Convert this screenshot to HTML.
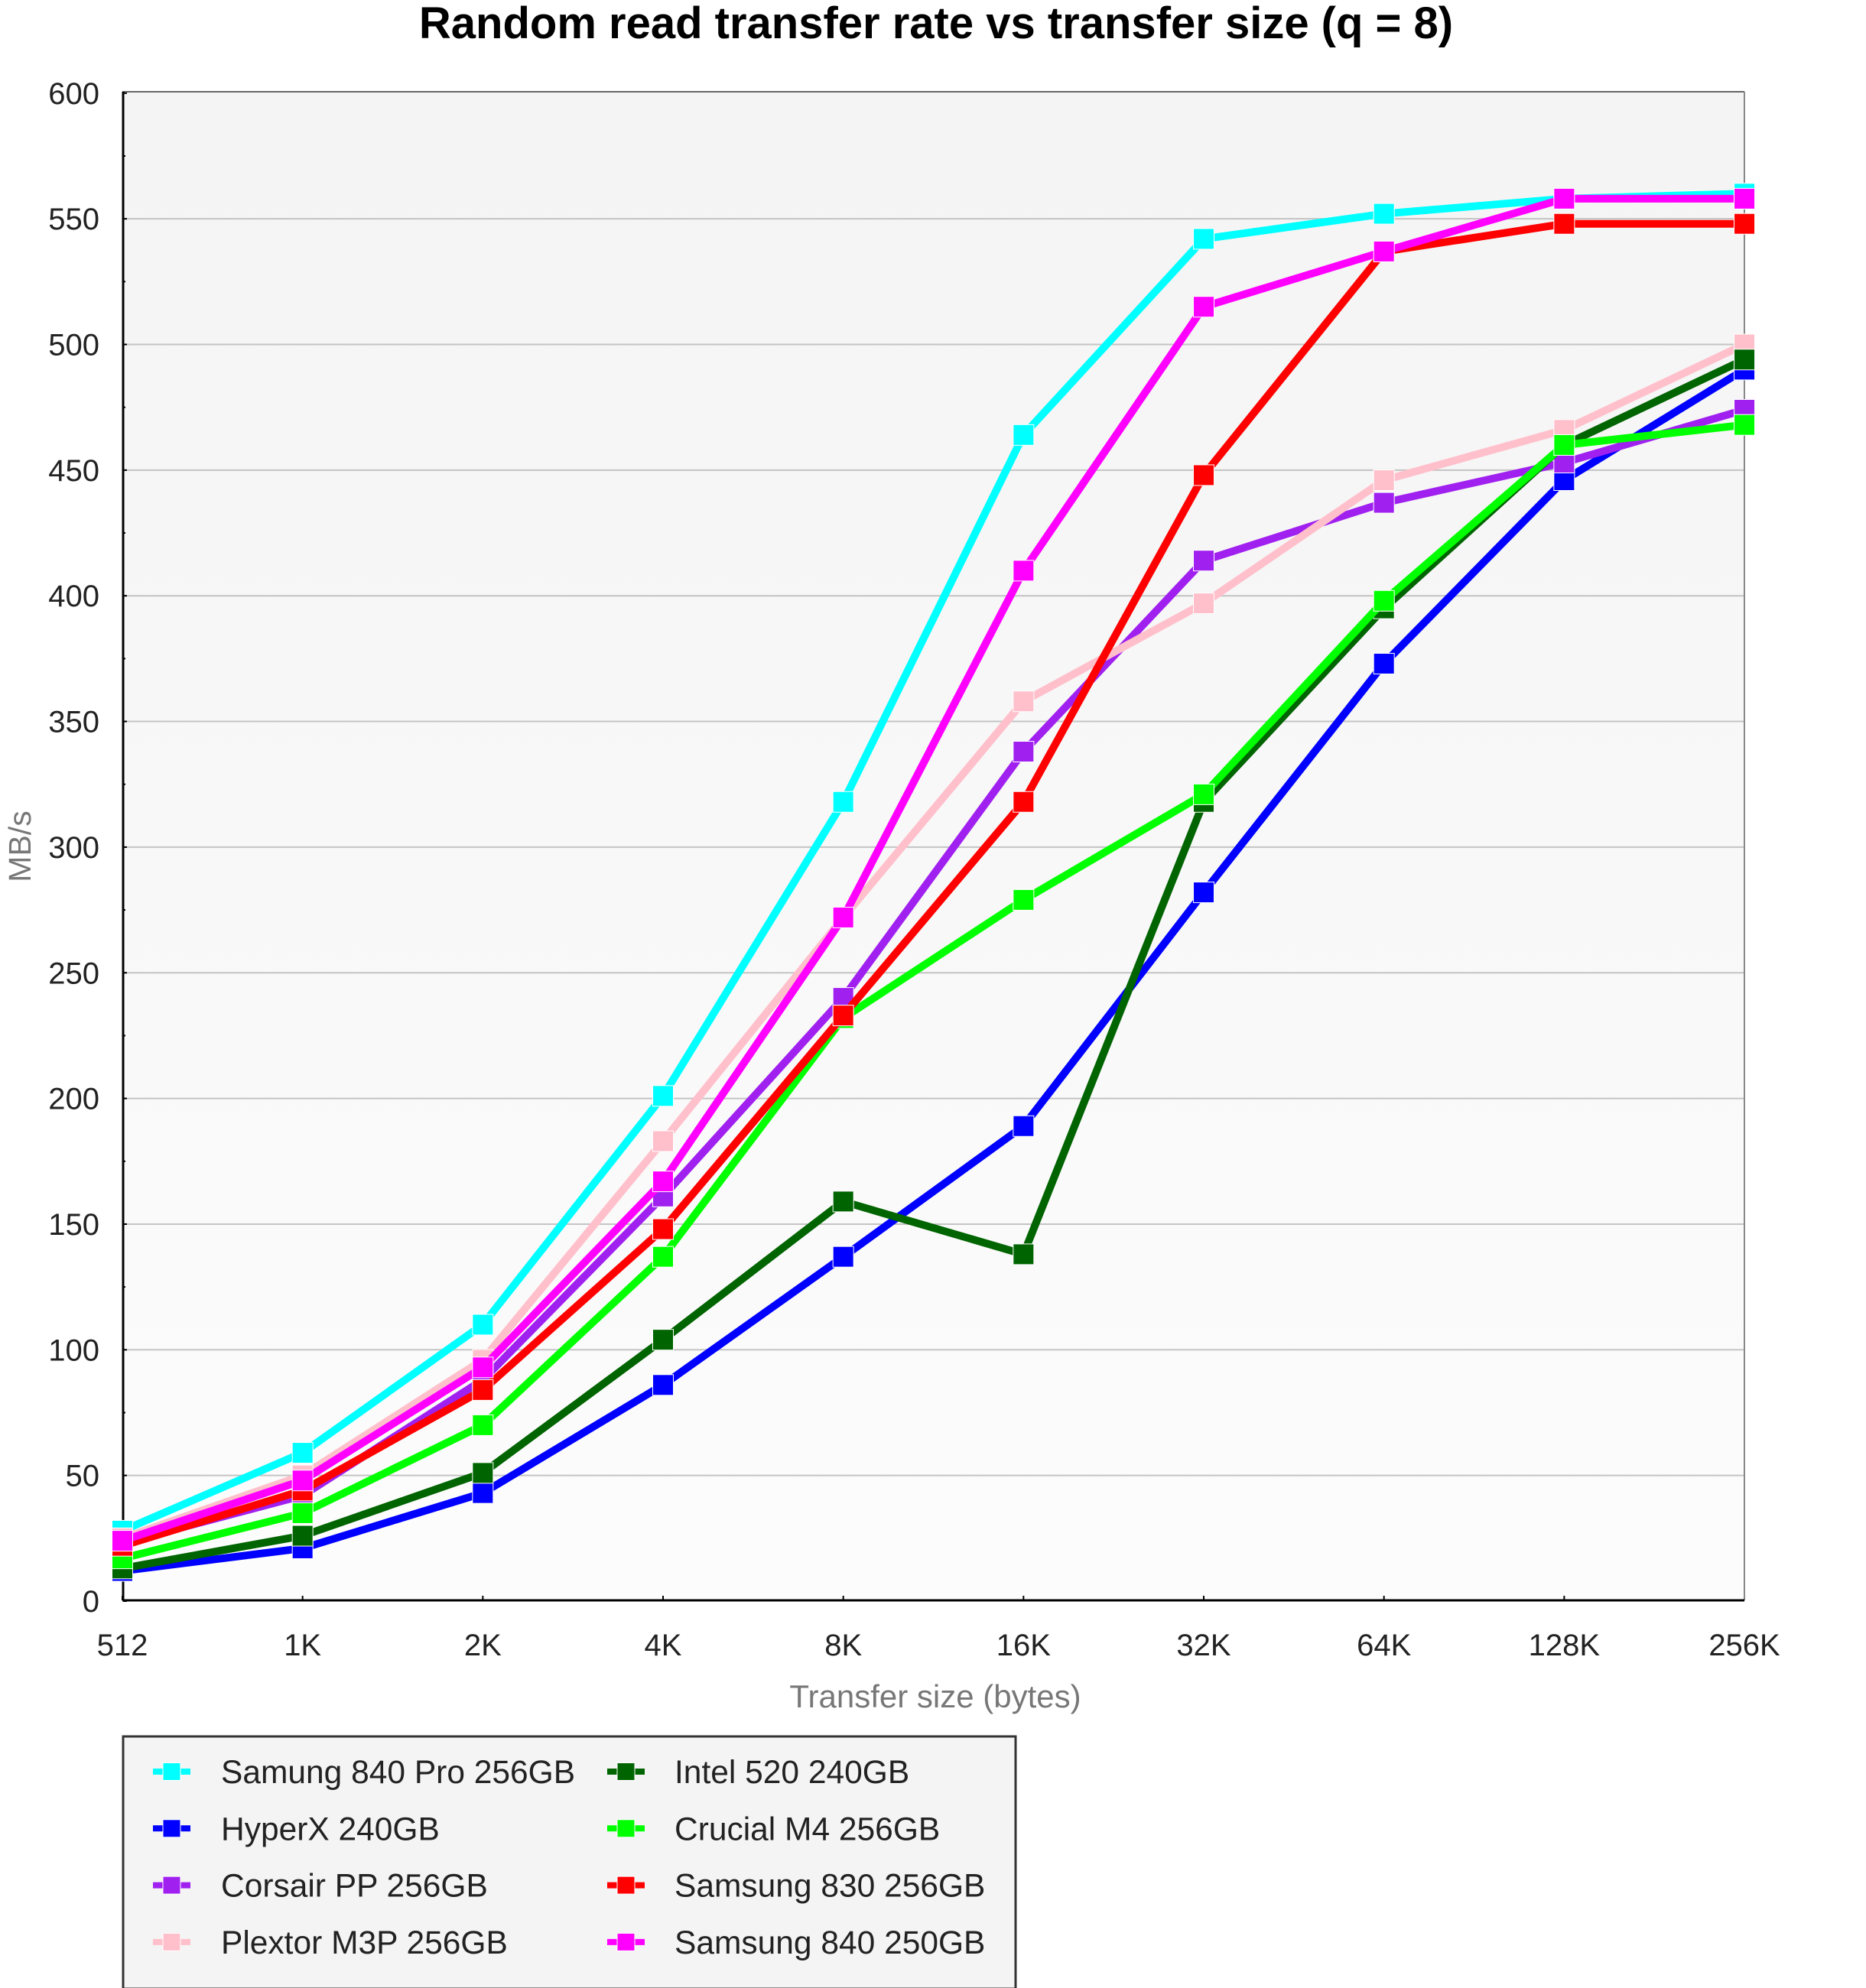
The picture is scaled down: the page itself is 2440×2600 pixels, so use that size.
<!DOCTYPE html>
<html><head><meta charset="utf-8"><style>
html,body{margin:0;padding:0;background:#fff;}
svg{display:block;}
text{font-family:"Liberation Sans",Arial,sans-serif;}
</style></head><body>
<svg width="2440" height="2600" viewBox="0 0 2440 2600" xmlns="http://www.w3.org/2000/svg">
<defs>
<linearGradient id="bg" x1="0" y1="0" x2="0" y2="1">
<stop offset="0" stop-color="#f4f4f4"/><stop offset="1" stop-color="#fcfcfc"/>
</linearGradient>
</defs>
<text x="1224" y="50" font-size="58" font-weight="bold" text-anchor="middle" fill="#000">Random read transfer rate vs transfer size (q = 8)</text>
<rect x="160" y="120" width="2121" height="1973" fill="url(#bg)"/>
<g id="grid" stroke="#c4c4c4" stroke-width="2"></g>
<g id="ticks" stroke="#000" stroke-width="2"></g>
<line x1="160" y1="120" x2="2281" y2="120" stroke="#666" stroke-width="2"/>
<line x1="2281" y1="120" x2="2281" y2="2093" stroke="#888" stroke-width="2"/>
<line x1="161" y1="120" x2="161" y2="2093" stroke="#000" stroke-width="3"/>
<line x1="160" y1="2093" x2="2281" y2="2093" stroke="#000" stroke-width="3"/>
<g id="ylab" font-size="40" fill="#222" text-anchor="end"></g>
<g id="xlab" font-size="40" fill="#222" text-anchor="middle"></g>
<text x="1223" y="2233" font-size="42" fill="#777" text-anchor="middle">Transfer size (bytes)</text>
<text transform="translate(40,1107) rotate(-90)" font-size="41" fill="#777" text-anchor="middle">MB/s</text>
<g id="series"></g>
<rect x="161" y="2271" width="1167" height="330" fill="#f4f4f4" stroke="#333" stroke-width="3"/>
<g id="legend" font-size="42.5" fill="#222"></g>
</svg>
<script>
var NS="http://www.w3.org/2000/svg";
function el(p,t,a,txt){var e=document.createElementNS(NS,t);for(var k in a)e.setAttribute(k,a[k]);if(txt!==undefined)e.textContent=txt;document.getElementById(p).appendChild(e);return e;}
var X0=160,DX=235.67,Y0=2094,K=3.287;
function Y(v){return Y0-v*K;}
for(var v=50;v<600;v+=50){el("grid","line",{x1:162,x2:2280,y1:Y(v),y2:Y(v)});}
for(var v=0;v<=600;v+=25){el("ticks","line",{x1:161,x2:v%50==0?166:164,y1:Y(v),y2:Y(v)});}
for(var v=0;v<=600;v+=50){el("ylab","text",{x:130,y:Y(v)+14},String(v));}
var xl=["512","1K","2K","4K","8K","16K","32K","64K","128K","256K"];
for(var i=0;i<10;i++){el("xlab","text",{x:X0+i*DX,y:2165},xl[i]);el("ticks","line",{x1:X0+i*DX,x2:X0+i*DX,y1:2093,y2:2087});}
var S=[
["Samung 840 Pro 256GB","#00ffff",[28,59,110,201,318,464,542,552,558,560]],
["HyperX 240GB","#0000ff",[12,21,43,86,137,189,282,373,446,490]],
["Corsair PP 256GB","#a020f0",[23,42,88,161,240,338,414,437,453,474]],
["Plextor M3P 256GB","#ffc0cb",[25,50,96,183,272,358,397,446,466,500]],
["Intel 520 240GB","#006400",[13,26,51,104,159,138,318,395,460,494]],
["Crucial M4 256GB","#00ff00",[17,35,70,137,232,279,321,398,460,468]],
["Samsung 830 256GB","#ff0000",[22,44,84,148,233,318,448,537,548,548]],
["Samsung 840 250GB","#ff00ff",[24,48,93,167,272,410,515,537,558,558]]];
S.forEach(function(s){
 var pts=s[2].map(function(v,i){return (X0+i*DX)+","+Y(v);}).join(" ");
 el("series","polyline",{points:pts,fill:"none",stroke:s[1],"stroke-width":10,"stroke-linejoin":"round"});
 s[2].forEach(function(v,i){el("series","rect",{x:X0+i*DX-13.5,y:Y(v)-13.5,width:27,height:27,fill:s[1],stroke:"#fff","stroke-width":1});});
});
var order=[[0,4],[1,5],[2,6],[3,7]];
for(var r=0;r<4;r++){var y=2317+r*74.3;
 [[0,200,289],[1,794,882]].forEach(function(c){var s=S[order[r][c[0]]];
  el("legend","line",{x1:c[1],x2:c[1]+49,y1:y,y2:y,stroke:s[1],"stroke-width":8});
  el("legend","rect",{x:c[1]+13,y:y-11.5,width:23,height:23,fill:s[1],stroke:"#fff","stroke-width":1});
  el("legend","text",{x:c[2],y:y+15},s[0]);});
}
</script>
</body></html>
